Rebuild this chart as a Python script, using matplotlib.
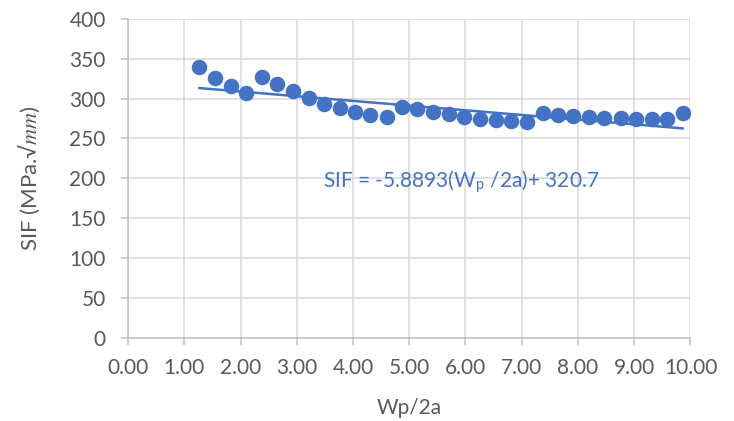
import numpy as np
import matplotlib
matplotlib.use('Agg')
import matplotlib.pyplot as plt

# data
wp_2a = [1.27, 1.55, 1.83, 2.10, 2.38, 2.65, 2.94, 3.21, 3.48, 3.77, 4.04,
         4.31, 4.60, 4.87, 5.14, 5.43, 5.71, 5.97, 6.26, 6.54, 6.81, 7.09,
         7.37, 7.64, 7.92, 8.20, 8.47, 8.76, 9.04, 9.31, 9.59, 9.86]
sif = [340, 326, 316, 307.5, 327.5, 318, 309.5, 301, 293, 288, 283,
       280, 277, 289, 286.5, 283.5, 280.5, 276.5, 275, 273, 272, 270.5,
       281.5, 279.5, 278, 277.5, 275.5, 275.5, 274.5, 274, 274, 281.5]

# linear trendline coefficients (as printed on the chart)
slope = -5.8893
intercept = 320.7

x_ticks = np.arange(0, 10.01, 1.0)
y_ticks = np.arange(0, 401, 50)

blue = '#4472C4'
grey_txt = '#595959'
grid_c = '#D9D9D9'

plt.rcParams['font.family'] = ['Lato', 'DejaVu Sans']
plt.rcParams['mathtext.fontset'] = 'stix'

fig = plt.figure(figsize=(7.34, 4.21), dpi=100)
ax = fig.add_axes([0.1744, 0.198, 0.7663, 0.757])

ax.scatter(wp_2a, sif, s=125, color=blue, zorder=3, linewidths=0)

xt = np.array([wp_2a[0], wp_2a[-1]])
ax.plot(xt, slope * xt + intercept, color=blue, lw=1.8, zorder=2)

ax.set_xlim(0, 10)
ax.set_ylim(0, 400)
ax.set_xticks(x_ticks)
ax.set_yticks(y_ticks)
ax.set_xticklabels([f'{v:.2f}' for v in x_ticks])
ax.grid(True, color=grid_c, lw=1.1)
ax.set_axisbelow(True)

for s in ['top', 'right']:
    ax.spines[s].set_visible(False)
for s in ['left', 'bottom']:
    ax.spines[s].set_color('#BFBFBF')
    ax.spines[s].set_linewidth(1.1)

ax.tick_params(axis='both', colors='#BFBFBF', labelcolor=grey_txt,
               labelsize=15, length=5, width=1.1)
ax.tick_params(axis='x', pad=10)
ax.tick_params(axis='y', pad=11)

ax.set_xlabel('Wp/2a', fontsize=15, color=grey_txt, labelpad=14)
ax.set_ylabel('SIF (MPa.√$mm$)', fontsize=16, color=grey_txt, labelpad=20)

ax.text(5.92, 196, 'SIF = -5.8893(W$_\\mathregular{p}$ /2a)+ 320.7',
        color=blue, fontsize=15, ha='center', va='center')

fig.savefig('out.png', dpi=100)
